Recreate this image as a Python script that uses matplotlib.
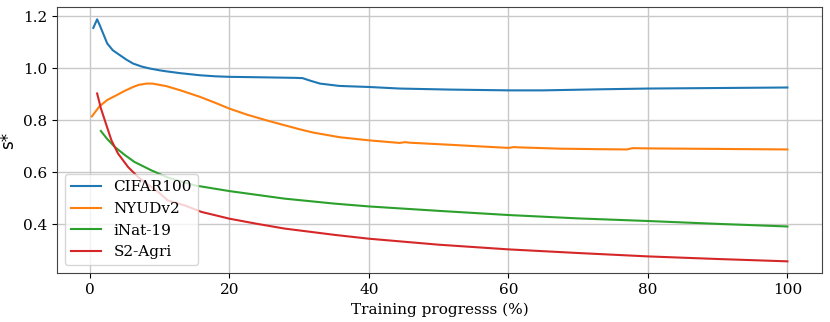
import numpy as np
import matplotlib
matplotlib.use("Agg")
import matplotlib.pyplot as plt

# values
cifar_x = [0.5, 1.05, 1.43, 2.5, 3.3, 4, 5.25, 6.2, 7.5, 8.6, 10, 11, 13, 15.8, 18, 20, 25, 29.5,
           30.5, 31.5, 33, 35.8, 40, 44.4, 51.6, 60, 65, 73, 80, 90, 100]
cifar_y = [1.155, 1.188, 1.165, 1.095, 1.069, 1.056, 1.033, 1.018, 1.006, 0.999, 0.992, 0.988, 0.981,
           0.973, 0.969, 0.967, 0.965, 0.963, 0.962, 0.953, 0.941, 0.932, 0.928, 0.922, 0.918, 0.915,
           0.915, 0.919, 0.922, 0.924, 0.926]

nyu_x = [0.3, 1.4, 2.5, 3.8, 5, 6.2, 7, 8.1, 9, 11, 13, 15.8, 18, 20, 22.5, 25.3, 27.5, 30, 32, 35.8,
         40, 44.4, 45.2, 45.8, 51.6, 55, 60, 60.8, 61.5, 67.3, 73, 77, 77.8, 80, 90, 100]
nyu_y = [0.815, 0.854, 0.878, 0.896, 0.913, 0.928, 0.936, 0.941, 0.941, 0.931, 0.915, 0.89, 0.867,
         0.845, 0.822, 0.8, 0.784, 0.766, 0.753, 0.735, 0.723, 0.713, 0.716, 0.714, 0.706, 0.701,
         0.694, 0.697, 0.696, 0.691, 0.689, 0.688, 0.693, 0.692, 0.69, 0.688]

inat_x = [1.58, 2.5, 3.6, 5, 6.4, 8.8, 11.2, 15, 20, 27.9, 35, 40, 50, 60, 70, 80, 90, 100]
inat_y = [0.759, 0.728, 0.697, 0.667, 0.64, 0.608, 0.58, 0.55, 0.528, 0.499, 0.48, 0.469, 0.452,
          0.436, 0.423, 0.413, 0.402, 0.392]

s2_x = [1.05, 1.6, 2.15, 3.1, 4.05, 5.5, 7, 8.5, 10, 11.2, 13.6, 16, 20, 24, 27.9, 35, 40, 50, 60,
        70, 80, 90, 100]
s2_y = [0.903, 0.845, 0.8, 0.723, 0.672, 0.62, 0.58, 0.55, 0.52, 0.492, 0.473, 0.448, 0.422, 0.402,
        0.384, 0.36, 0.345, 0.322, 0.304, 0.29, 0.277, 0.267, 0.258]

plt.rcParams['font.family'] = 'DejaVu Serif'
plt.rcParams['font.size'] = 11

fig = plt.figure(figsize=(8.3, 3.22), dpi=100)
ax = fig.add_axes([0.0687, 0.152, 0.922, 0.826])

ax.plot(cifar_x, cifar_y, color='#1f77b4', lw=1.5, label='CIFAR100')
ax.plot(nyu_x, nyu_y, color='#ff7f0e', lw=1.5, label='NYUDv2')
ax.plot(inat_x, inat_y, color='#2ca02c', lw=1.5, label='iNat-19')
ax.plot(s2_x, s2_y, color='#d62728', lw=1.5, label='S2-Agri')

ax.set_xlim(-4.7, 105)
ax.set_ylim(0.213, 1.235)
ax.set_xticks([0, 20, 40, 60, 80, 100])
ax.set_yticks([0.4, 0.6, 0.8, 1.0, 1.2])
ax.yaxis.set_major_formatter(matplotlib.ticker.FormatStrFormatter('%.1f'))
ax.grid(True, color='#c8c8c8', lw=1)
ax.set_axisbelow(True)
for s in ax.spines.values():
    s.set_edgecolor('#444444')

ax.set_xlabel('Training progresss (%)')
ax.set_ylabel('s*', family='DejaVu Sans', fontsize=12)
ax.legend(loc='lower left')

fig.savefig('out.png', dpi=100)
